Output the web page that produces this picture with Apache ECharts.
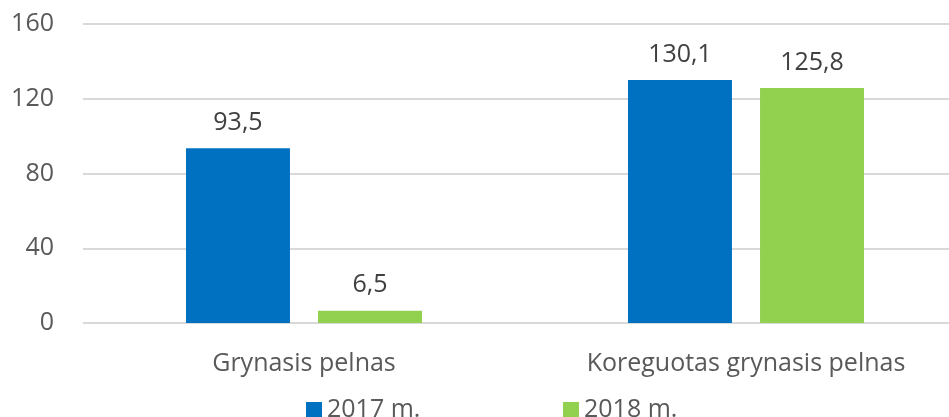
<!DOCTYPE html>
<html>
<head>
<meta charset="utf-8">
<script src="https://cdn.jsdelivr.net/npm/echarts@6/dist/echarts.min.js"></script>
<style>
  html, body { margin: 0; padding: 0; background: #fff; }
  #chart { width: 949px; height: 417px; }
</style>
</head>
<body>
<div id="chart"></div>
<script>
  var categories = ['Grynasis pelnas', 'Koreguotas grynasis pelnas'];
  var seriesNames = ['2017 m.', '2018 m.'];
  var values2017 = [93.5, 130.1];
  var values2018 = [6.5, 125.8];
  var yTicks = [0, 40, 80, 120, 160];

  var font = '"Open Sans", "Noto Sans", sans-serif';
  var textColor = '#595959';

  function fmt(p) {
    return String(p.value).replace('.', ',');
  }

  var chart = echarts.init(document.getElementById('chart'));
  chart.setOption({
    animation: false,
    textStyle: { fontFamily: font },
    grid: { left: 83, width: 884, top: 24, height: 299, outerBoundsMode: 'none', containLabel: false },
    legend: [
      {
        data: [seriesNames[0]],
        left: 301, top: 392,
        itemWidth: 16, itemHeight: 15,
        icon: 'rect',
        textStyle: { fontSize: 25, color: textColor, fontFamily: font }
      },
      {
        data: [seriesNames[1]],
        left: 558, top: 392,
        itemWidth: 16, itemHeight: 15,
        icon: 'rect',
        textStyle: { fontSize: 25, color: textColor, fontFamily: font }
      }
    ],
    xAxis: {
      type: 'category',
      data: categories,
      axisLine: { show: false },
      axisTick: { show: false },
      axisLabel: { fontSize: 25, color: textColor, margin: 28, fontFamily: font }
    },
    yAxis: {
      type: 'value',
      min: yTicks[0],
      max: yTicks[yTicks.length - 1],
      interval: 40,
      axisLine: { show: false },
      axisTick: { show: false },
      axisLabel: { fontSize: 25, color: textColor, margin: 29, fontFamily: font },
      splitLine: { lineStyle: { color: '#d9d9d9', width: 2 } }
    },
    series: [
      {
        name: seriesNames[0],
        type: 'bar',
        data: values2017,
        barGap: '27%',
        barCategoryGap: '46.6%',
        itemStyle: { color: '#0070C0' },
        label: { show: true, position: 'top', distance: 13, fontSize: 25, color: '#404040', formatter: fmt, fontFamily: font }
      },
      {
        name: seriesNames[1],
        type: 'bar',
        data: values2018,
        itemStyle: { color: '#92D050' },
        label: { show: true, position: 'top', distance: 13, fontSize: 25, color: '#404040', formatter: fmt, fontFamily: font }
      }
    ]
  });
</script>
</body>
</html>
